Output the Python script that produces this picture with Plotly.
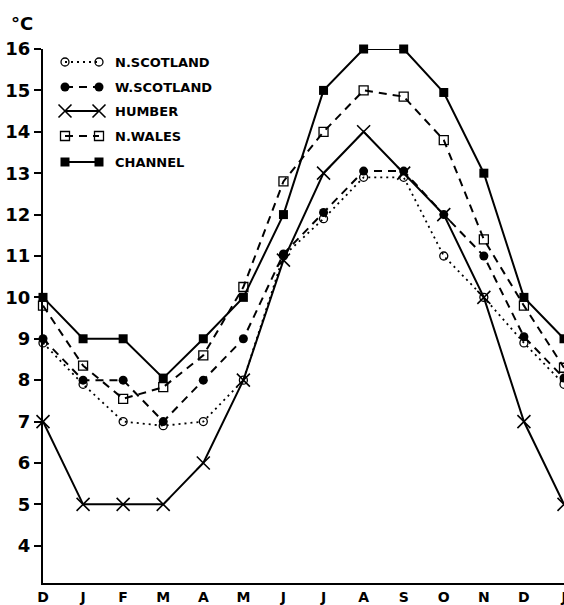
import plotly.graph_objects as go

# Month positions: December through the following January
months = ["D", "J", "F", "M", "A", "M", "J", "J", "A", "S", "O", "N", "D", "J"]
xpos = list(range(len(months)))

# Mean monthly sea temperatures (°C)
n_scotland = [8.9, 7.9, 7.0, 6.9, 7.0, 8.0, 11.0, 11.9, 12.9, 12.9, 11.0, 10.0, 8.9, 7.9]
w_scotland = [9.0, 8.0, 8.0, 7.0, 8.0, 9.0, 11.05, 12.05, 13.05, 13.05, 12.0, 11.0, 9.05, 8.05]
humber = [7.0, 5.0, 5.0, 5.0, 6.0, 8.0, 10.9, 13.0, 14.0, 13.0, 12.0, 10.0, 7.0, 5.0]
n_wales = [9.8, 8.35, 7.55, 7.83, 8.6, 10.25, 12.8, 14.0, 15.0, 14.85, 13.8, 11.4, 9.8, 8.3]
channel = [10.0, 9.0, 9.0, 8.05, 9.0, 10.0, 12.0, 15.0, 16.0, 16.0, 14.95, 13.0, 10.0, 9.0]

y_ticks = list(range(4, 17))

FONT = "DejaVu Sans"

series = [
    ("N.SCOTLAND", n_scotland, "2px,4px", 1.8,
     dict(symbol="circle-open", size=8, color="black", line=dict(width=1.3, color="black"))),
    ("W.SCOTLAND", w_scotland, "8px,6px", 2.0,
     dict(symbol="circle", size=9, color="black")),
    ("HUMBER", humber, "solid", 2.0,
     dict(symbol="x-thin-open", size=13, color="black", line=dict(width=1.6, color="black"))),
    ("N.WALES", n_wales, "8px,6px", 2.0,
     dict(symbol="square-open", size=9, color="black", line=dict(width=1.3, color="black"))),
    ("CHANNEL", channel, "solid", 2.0,
     dict(symbol="square", size=9, color="black")),
]

fig = go.Figure()

for name, vals, dash, lw, marker in series:
    fig.add_trace(go.Scatter(
        x=xpos, y=vals, mode="lines+markers", name=name,
        line=dict(color="black", width=lw, dash=dash),
        marker=marker, cliponaxis=False, showlegend=False,
    ))

# Hand-built key: sample line with a marker at each end, then the label.
# Drawn on an overlay axis measured in page pixels.
key_rows = [62, 87, 111, 136, 162]
annotations = []
for (name, vals, dash, lw, marker), ky in zip(series, key_rows):
    fig.add_trace(go.Scatter(
        x=[65, 99], y=[ky, ky], mode="lines+markers",
        line=dict(color="black", width=lw, dash=dash),
        marker=marker, xaxis="x2", yaxis="y2",
        cliponaxis=False, showlegend=False, hoverinfo="skip",
    ))
    annotations.append(dict(
        x=113, y=ky, xref="x2", yref="y2", text=f"<b>{name}</b>",
        showarrow=False, xanchor="left", yanchor="middle",
        font=dict(family=FONT, size=13, color="black"),
    ))

# Unit label above the temperature axis
annotations.append(dict(
    x=-0.066, y=1.047, xref="paper", yref="paper", text="<b>°C</b>",
    showarrow=False, xanchor="left", yanchor="middle",
    font=dict(family=FONT, size=18, color="black"),
))

fig.update_layout(
    width=564, height=605,
    margin=dict(l=43, r=0, t=49, b=22),
    paper_bgcolor="white", plot_bgcolor="white",
    showlegend=False,
    annotations=annotations,
    xaxis=dict(
        range=[0, 13], tickmode="array", tickvals=xpos, ticktext=months,
        showgrid=False, zeroline=False, showline=True, linecolor="black", linewidth=2,
        ticks="", ticklabelstandoff=0, ticklabeloverflow="allow", automargin=False,
        tickfont=dict(family=FONT, size=14, color="black", weight="bold"),
    ),
    yaxis=dict(
        range=[3.1, 16], tickmode="array", tickvals=y_ticks,
        showgrid=False, zeroline=False, showline=True, linecolor="black", linewidth=2,
        ticks="outside", ticklen=7, tickwidth=2, tickcolor="black", automargin=False,
        tickfont=dict(family=FONT, size=18, color="black", weight="bold"),
    ),
    xaxis2=dict(range=[43, 564], overlaying="x", visible=False, fixedrange=True),
    yaxis2=dict(range=[583, 49], overlaying="y", visible=False, fixedrange=True),
)

fig.write_html("out.html")
